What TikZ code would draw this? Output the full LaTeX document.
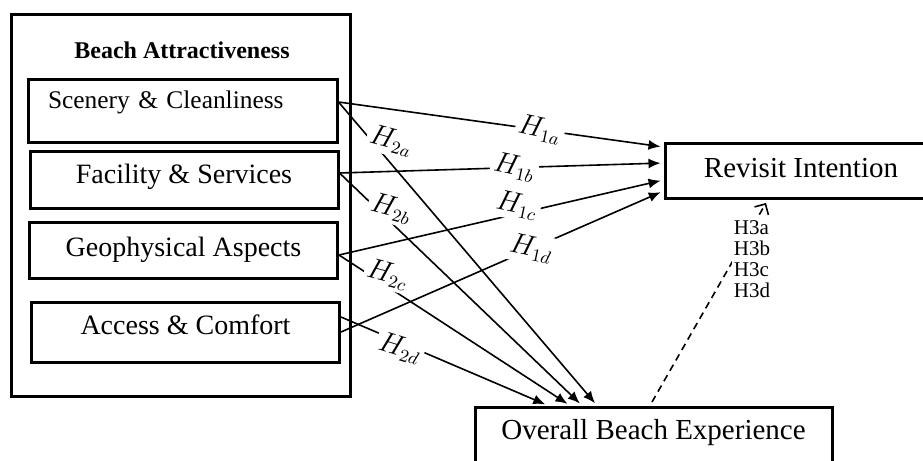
\documentclass[tikz,border=0pt]{standalone}
\usepackage{fontspec}
\setmainfont{Liberation Serif}
\usetikzlibrary{arrows.meta}

\begin{document}
\begin{tikzpicture}[x=0.5pt,y=-0.5pt,
  factor/.style={draw,line width=1.5pt,inner sep=0pt,minimum width=154pt,
    text height=8pt,text depth=4pt,font=\fontsize{14}{16}\selectfont},
  construct/.style={draw,line width=1.5pt,inner sep=0pt,font=\fontsize{14.5}{16}\selectfont},
  link/.style={line width=0.8pt,-{Latex[length=6pt,width=5pt]},shorten >=1.5pt},
  hyp/.style={fill=white,inner sep=1.5pt,font=\fontsize{13.5}{15}\selectfont}]
\useasboundingbox (0,0) rectangle (923,461);

% Beach Attractiveness
\node[draw,line width=1.5pt,minimum width=169.5pt,minimum height=191pt] (attract) at (180.5,205) {};
\node[font=\fontsize{12}{14}\selectfont\bfseries] (attrtitle) at (182,50) {Beach Attractiveness};

\node[factor,minimum height=31.5pt,text height=6pt,text depth=8pt,inner xsep=10pt,
  text width=134.5pt,align=left,font=\fontsize{12.7}{14}\selectfont] (scen) at (182.5,110.5) {Scenery \& Cleanliness};
\node[factor,minimum height=28.5pt] (fac) at (184,179.5) {Facility \& Services};
\node[factor,minimum height=28pt,text height=9pt,text depth=3pt] (geo) at (183.5,250) {Geophysical Aspects};
\node[factor,minimum height=30pt,text height=8pt,text depth=6pt] (acc) at (185.5,332) {Access \& Comfort};

% outcomes
\node[construct,minimum width=136pt,minimum height=27.5pt,text height=9pt,text depth=2pt] (revisit) at (801,170.5) {Revisit Intention};
\node[construct,minimum width=178.5pt,minimum height=35pt,text height=6pt,text depth=8.6pt] (overall) at (653.5,442) {Overall Beach Experience};

% H1
\draw[link] ([yshift=4.25pt]scen.east) -- node[hyp,pos=0.62,rotate=-12] (h1a) {$H_{1a}$} ([yshift=11.75pt]revisit.west);
\draw[link] ([yshift=3.25pt]fac.east) -- node[hyp,pos=0.54,rotate=-12] (h1b) {$H_{1b}$} ([yshift=3.75pt]revisit.west);
\draw[link] ([yshift=-2.5pt]geo.east) -- node[hyp,pos=0.555,xshift=-1pt,yshift=4.2pt,rotate=-12] (h1c) {$H_{1c}$} ([yshift=-4.75pt]revisit.west);
\draw[link] (acc.east) -- node[hyp,pos=0.59,rotate=-12] (h1d) {$H_{1d}$} ([yshift=-10.25pt]revisit.west);

% H2
\draw[link] ([yshift=4.25pt]scen.east) -- node[hyp,pos=0.16,xshift=5.75pt,yshift=4.95pt,rotate=-15] (h2a) {$H_{2a}$} ([xshift=-28.25pt]overall.north);
\draw[link] ([yshift=3.25pt]fac.east) -- node[hyp,pos=0.185,xshift=3.5pt,yshift=3.65pt,rotate=-15] (h2b) {$H_{2b}$} ([xshift=-35.75pt]overall.north);
\draw[link] ([yshift=-2.5pt]geo.east) -- node[hyp,pos=0.188,xshift=2.7pt,yshift=4.3pt,rotate=-15] (h2c) {$H_{2c}$} ([xshift=-41.75pt]overall.north);
\draw[link] ([yshift=7.5pt]acc.east) -- node[hyp,pos=0.295,xshift=-1pt,yshift=-2.45pt,rotate=-17] (h2d) {$H_{2d}$} ([xshift=-52.75pt]overall.north);

% H3
\draw[line width=0.8pt,dash pattern=on 3.5pt off 2.5pt,-{Straight Barb[length=4pt,width=8pt]},shorten >=2pt,shorten <=2pt]
  ([xshift=-1.75pt]overall.north) -- ([xshift=-16.5pt]revisit.south);
\node[fill=white,align=left,inner sep=1pt,font=\fontsize{10.5}{10.5}\selectfont] (h3) at (752,259) {H3a\\H3b\\H3c\\H3d};

\end{tikzpicture}
\end{document}
